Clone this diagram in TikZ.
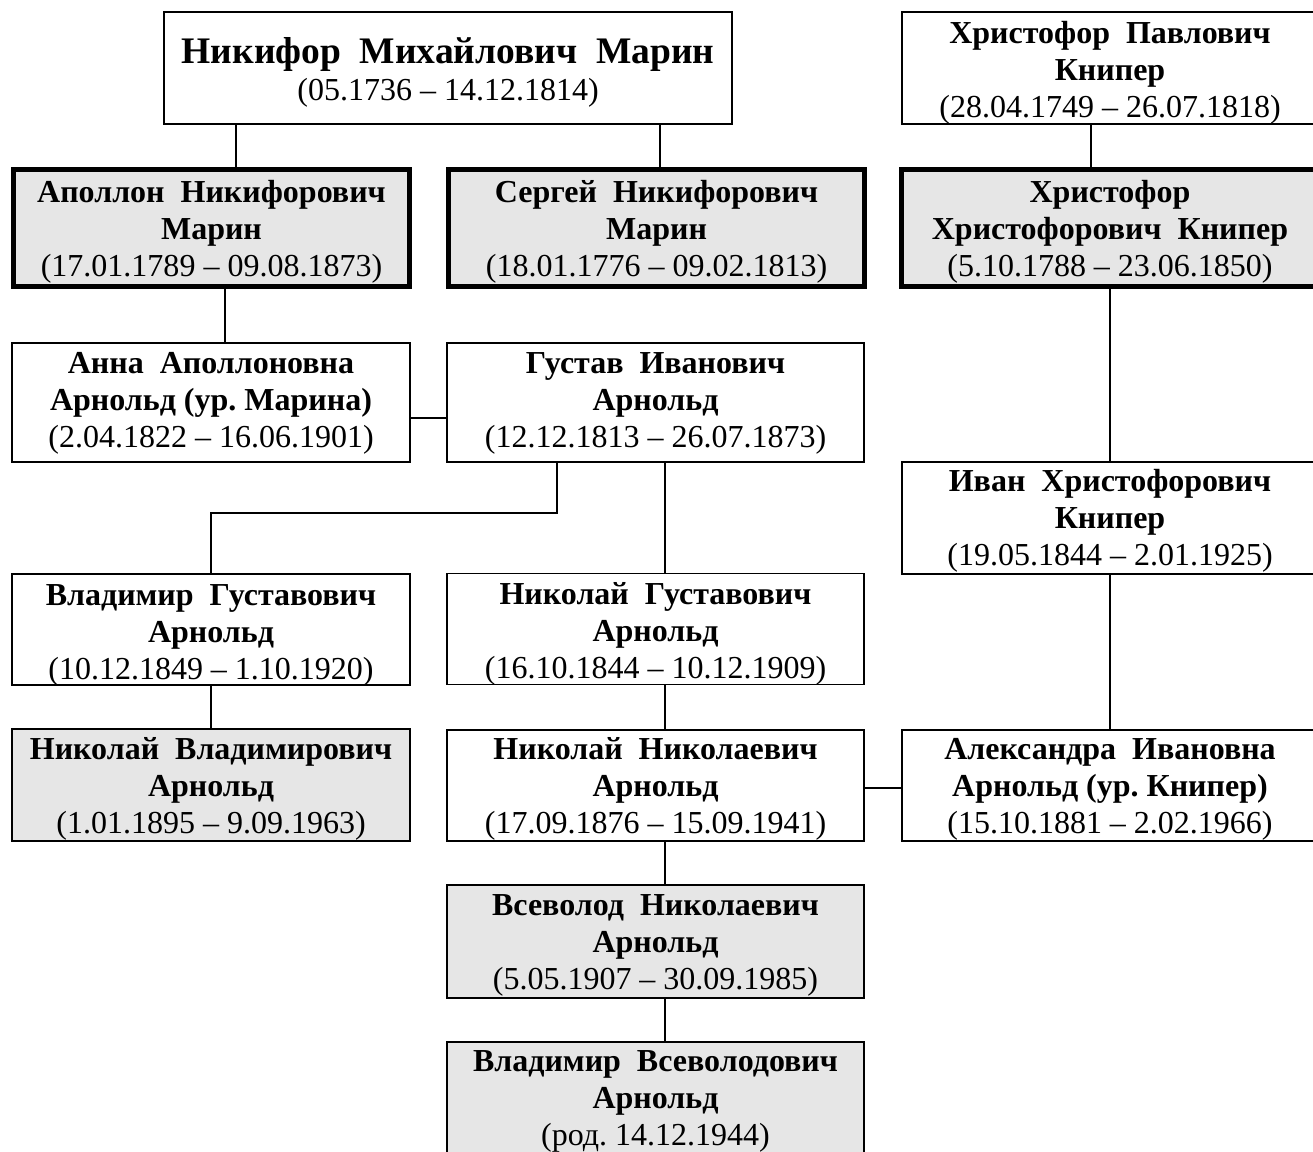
\documentclass[tikz,border=0pt]{standalone}
\usepackage{fontspec}
\setmainfont{Liberation Serif}
\definecolor{boxgray}{RGB}{230,230,230}
\newcommand\dsp{\hspace{0.5em}}
% #1 = downward shift of the text block (pt), #2,#3 = bold lines, #4 = dates
\newcommand\pp[4]{\raisebox{0pt}[\dimexpr\height+#1pt\relax][\dimexpr\depth-#1pt\relax]{\begin{tabular}{@{}c@{}}\textbf{#2}\\\textbf{#3}\\#4\end{tabular}}}
\begin{document}
\frenchspacing
\begin{tikzpicture}[x=1pt,y=-1pt,
  person/.style={draw, line width=1.3pt, inner sep=0pt, rectangle,
    font=\fontsize{32}{37}\selectfont},
  key/.style={person, line width=5pt, fill=boxgray},
  shaded/.style={person, fill=boxgray},
  link/.style={line width=1.3pt, line join=miter}]
\fill[white] (0,0) rectangle (1313,1151);
\useasboundingbox (0,0) rectangle (1313,1151);

\node[person, minimum width=568pt, minimum height=112pt] (nik) at (448,68)
  {\raisebox{0pt}[\dimexpr\height+6.4pt\relax][\dimexpr\depth-6.4pt\relax]{\begin{tabular}{@{}c@{}}{\fontsize{37.5}{42}\selectfont\textbf{Никифор\dsp Михайлович\dsp Марин}}\\(05.1736 – 14.12.1814)\end{tabular}}};
\node[person, minimum width=416pt, minimum height=112pt] (hp) at (1110,68)
  {\pp{4.6}{Христофор\dsp Павлович}{Книпер}{(28.04.1749 – 26.07.1818)}};

\node[key, minimum width=396pt, minimum height=117pt] (apo) at (211.5,228)
  {\pp{4.3}{Аполлон\dsp Никифорович}{Марин}{(17.01.1789 – 09.08.1873)}};
\node[key, minimum width=416pt, minimum height=117pt] (ser) at (656.5,228)
  {\pp{4.3}{Сергей\dsp Никифорович}{Марин}{(18.01.1776 – 09.02.1813)}};
\node[key, minimum width=417pt, minimum height=117pt] (hh) at (1110,228)
  {\pp{4.3}{Христофор}{Христофорович\dsp Книпер}{(5.10.1788 – 23.06.1850)}};

\node[person, minimum width=398pt, minimum height=119pt] (anna) at (211,402.5)
  {\pp{0.5}{Анна\dsp Аполлоновна}{Арнольд (ур. Марина)}{(2.04.1822 – 16.06.1901)}};
\node[person, minimum width=417pt, minimum height=119pt] (gus) at (655.5,402.5)
  {\pp{0.5}{Густав\dsp Иванович}{Арнольд}{(12.12.1813 – 26.07.1873)}};
\node[person, minimum width=416pt, minimum height=112pt] (ivan) at (1110,518)
  {\pp{3.5}{Иван\dsp Христофорович}{Книпер}{(19.05.1844 – 2.01.1925)}};

\node[person, minimum width=398pt, minimum height=111pt] (vg) at (211,629.5)
  {\pp{5.2}{Владимир\dsp Густавович}{Арнольд}{(10.12.1849 – 1.10.1920)}};
\node[person, minimum width=417pt, minimum height=110pt] (ng) at (655.5,629)
  {\pp{5.4}{Николай\dsp Густавович}{Арнольд}{(16.10.1844 – 10.12.1909)}};

\node[shaded, minimum width=398pt, minimum height=112pt] (nv) at (211,785)
  {\pp{4.5}{Николай\dsp Владимирович}{Арнольд}{(1.01.1895 – 9.09.1963)}};
\node[person, minimum width=417pt, minimum height=111pt] (nn) at (655.5,785.5)
  {\pp{4}{Николай\dsp Николаевич}{Арнольд}{(17.09.1876 – 15.09.1941)}};
\node[person, minimum width=416pt, minimum height=111pt] (ale) at (1110,785.5)
  {\pp{3.5}{Александра\dsp Ивановна}{Арнольд (ур. Книпер)}{(15.10.1881 – 2.02.1966)}};

\node[shaded, minimum width=417pt, minimum height=113pt] (vs) at (655.5,941.5)
  {\pp{3.2}{Всеволод\dsp Николаевич}{Арнольд}{(5.05.1907 – 30.09.1985)}};
\node[shaded, minimum width=417pt, minimum height=118pt] (vv) at (655.5,1101)
  {\pp{0}{Владимир\dsp Всеволодович}{Арнольд}{(род. 14.12.1944)}};

\coordinate (k1) at (236,0);
\coordinate (k2) at (660,0);
\coordinate (k3) at (1091,0);
\coordinate (k4) at (225,0);
\coordinate (k5) at (557,0);
\coordinate (k6) at (211,0);
\coordinate (k7) at (665,0);
\coordinate (k8) at (1110,0);
\coordinate (j1) at (0,418);
\coordinate (j2) at (0,788);
\coordinate (j3) at (0,513);

\draw[link] (nik.south -| k1) -- (apo.north -| k1);
\draw[link] (nik.south -| k2) -- (ser.north -| k2);
\draw[link] (hp.south -| k3) -- (hh.north -| k3);
\draw[link] (apo.south -| k4) -- (anna.north -| k4);
\draw[link] (anna.east |- j1) -- (gus.west |- j1);
\draw[link] (gus.south -| k5) -- (k5 |- j3) -- (k6 |- j3) -- (vg.north -| k6);
\draw[link] (gus.south -| k7) -- (ng.north -| k7);
\draw[link] (hh.south -| k8) -- (ivan.north -| k8);
\draw[link] (ivan.south -| k8) -- (ale.north -| k8);
\draw[link] (vg.south -| k6) -- (nv.north -| k6);
\draw[link] (ng.south -| k7) -- (nn.north -| k7);
\draw[link] (nn.east |- j2) -- (ale.west |- j2);
\draw[link] (nn.south -| k7) -- (vs.north -| k7);
\draw[link] (vs.south -| k7) -- (vv.north -| k7);
\end{tikzpicture}
\end{document}
